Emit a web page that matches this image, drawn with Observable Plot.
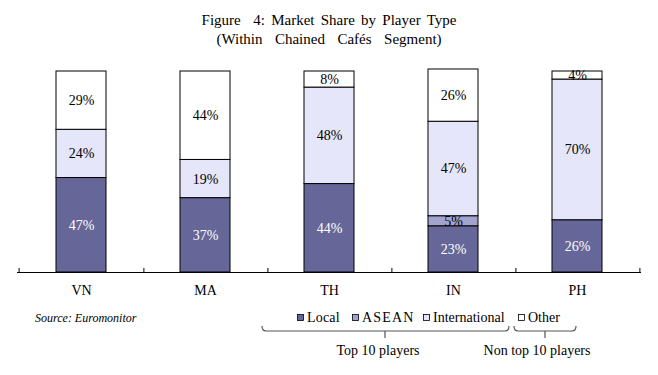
<!DOCTYPE html>
<html>
<head>
<meta charset="utf-8">
<script src="https://cdn.jsdelivr.net/npm/d3@7"></script>
<script src="https://cdn.jsdelivr.net/npm/@observablehq/plot@0.6"></script>
<style>
  body { margin: 0; background: #fff; font-family: "Liberation Serif", "Times New Roman", serif; }
  #wrap { width: 658px; height: 375px; position: relative; }
  #title { position: absolute; top: 11px; left: 0; width: 658px; text-align: center; font-size: 15px; line-height: 19px; color: #000; word-spacing: 2.5px; }
  #chart { position: absolute; top: 60px; left: 0; }
  #foot { position: absolute; top: 300px; left: 0; }
</style>
</head>
<body>
<div id="wrap">
  <div id="title">Figure&nbsp; 4: Market Share by Player Type<br>(Within&nbsp; Chained&nbsp; Cafés&nbsp; Segment)</div>
  <div id="chart"></div>
  <svg id="foot" width="658" height="75" style="font-family: 'Liberation Serif', 'Times New Roman', serif"></svg>
</div>
<script>
const categories = ["VN", "MA", "TH", "IN", "PH"];
const series = ["Local", "ASEAN", "International", "Other"];
const local = [47, 37, 44, 23, 26];
const asean = [0, 0, 0, 5, 0];
const international = [24, 19, 48, 47, 70];
const other = [29, 44, 8, 26, 4];
const colors = ["#666699", "#a3a3cf", "#e6e6fa", "#ffffff"];
const legendLabels = ["Local", "ASEAN", "International", "Other"];

const columns = [local, asean, international, other];
const data = [];
categories.forEach((c, i) => {
  series.forEach((s, j) => {
    data.push({cat: c, type: s, value: columns[j][i]});
  });
});
const nonzero = data.filter(d => d.value > 0);

const W = 658, H = 240, mL = 17, mR = 17, mT = 11, mB = 28;
const pInner = 0.6, pOuter = 0.3;
const step = (W - mL - mR) / (categories.length - pInner + 2 * pOuter);

const plot = Plot.plot({
  width: W, height: H,
  marginLeft: mL, marginRight: mR, marginTop: mT, marginBottom: mB,
  style: {fontFamily: "'Liberation Serif', 'Times New Roman', serif", fontSize: "14px", background: "#fff"},
  x: {domain: categories, paddingInner: pInner, paddingOuter: pOuter, align: 0.5, label: null},
  y: {domain: [0, 100], axis: null},
  color: {domain: series, range: colors},
  marks: [
    Plot.barY(nonzero, Plot.stackY({x: "cat", y: "value", fill: "type", order: series, stroke: "#000", strokeWidth: 1})),
    Plot.text(nonzero, Plot.stackY({x: "cat", y: "value", order: series, text: d => d.value + "%", fill: d => d.type === "Local" ? "#fff" : "#000", fontSize: 14})),
    Plot.ruleY([0], {stroke: "#000", strokeWidth: 1.2}),
    Plot.ruleX(categories, {x: d => d, y1: 0, y2: 2, dx: step / 2, stroke: "#000"}),
    Plot.ruleX(categories.slice(0, 1), {x: d => d, y1: 0, y2: 2, dx: -step / 2, stroke: "#000"}),
    Plot.axisX({tickSize: 0, tickPadding: 13, fontSize: 14, fill: "#000"})
  ]
});
document.getElementById("chart").appendChild(plot);

// footer: source, legend, brackets
const foot = d3.select("#foot");
foot.append("text").attr("x", 35).attr("y", 22).attr("font-size", 12).attr("font-style", "italic").text("Source: Euromonitor");

const legendX = [297, 352, 423, 518];
const legendSpacing = [0.2, 1.2, 0, 0];
legendLabels.forEach((l, i) => {
  foot.append("rect").attr("x", legendX[i] + 0.5).attr("y", 14.5).attr("width", 6).attr("height", 6)
    .attr("fill", colors[i]).attr("stroke", "#000").attr("stroke-width", 0.8);
  foot.append("text").attr("x", legendX[i] + 10).attr("y", 22).attr("font-size", 14)
    .attr("letter-spacing", legendSpacing[i]).text(l);
});

function brace(x1, x2, xm, y, stem) {
  foot.append("path")
    .attr("d", `M${x1},${y - 5} Q${x1},${y} ${x1 + 4},${y} L${x2 - 4},${y} Q${x2},${y} ${x2},${y - 5} M${xm},${y} L${xm},${y + stem}`)
    .attr("fill", "none").attr("stroke", "#555").attr("stroke-width", 1.2);
}
brace(262, 509, 385, 31, 7);
brace(514, 576, 545, 31, 7);
foot.append("text").attr("x", 378).attr("y", 55).attr("font-size", 14).attr("text-anchor", "middle").text("Top 10 players");
foot.append("text").attr("x", 537).attr("y", 55).attr("font-size", 14).attr("text-anchor", "middle").text("Non top 10 players");
</script>
</body>
</html>
